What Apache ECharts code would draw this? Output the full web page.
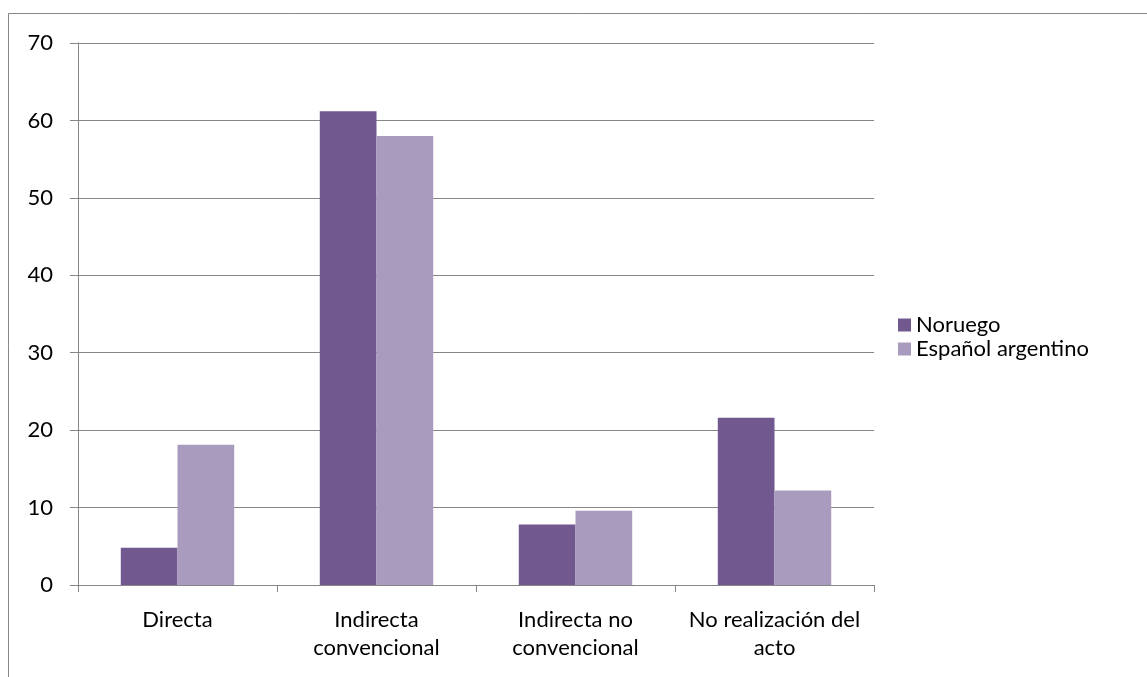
<!DOCTYPE html>
<html>
<head>
<meta charset="utf-8">
<script src="https://cdn.jsdelivr.net/npm/echarts@6/dist/echarts.min.js"></script>
<style>
html, body { margin: 0; padding: 0; background: #fff; }
#main { width: 1147px; height: 677px; }
</style>
</head>
<body>
<div id="main"></div>
<script>
// categorias (eje x)
var categorias = ['Directa', 'Indirecta\nconvencional', 'Indirecta no\nconvencional', 'No realización del\nacto'];
// valores
var noruego = [4.8, 61.2, 7.8, 21.6];
var espanolArgentino = [18.1, 58.0, 9.6, 12.2];
var nombresSeries = ['Noruego', 'Español argentino'];

var chart = echarts.init(document.getElementById('main'));
var fuente = 'Lato';
var tamano = 22;
var gris = '#868686';

var option = {
	animation: false,
	graphic: [{
		type: 'rect',
		shape: { x: 8.5, y: 13.5, width: 1300, height: 800 },
		style: { fill: 'none', stroke: gris, lineWidth: 1 },
		silent: true
	}],
	grid: {
		left: 78,
		right: 1147 - 874,
		top: 43,
		bottom: 677 - 585
	},
	legend: {
		orient: 'vertical',
		left: 893,
		top: 309,
		itemWidth: 13,
		itemHeight: 13,
		itemGap: 2,
		icon: 'rect',
		textStyle: { fontFamily: fuente, fontSize: tamano, color: '#000' },
		data: nombresSeries
	},
	xAxis: {
		type: 'category',
		data: categorias,
		axisLine: { lineStyle: { color: gris, width: 1 } },
		axisTick: { show: true, length: 7, lineStyle: { color: gris } },
		axisLabel: {
			color: '#000',
			fontFamily: fuente,
			fontSize: tamano,
			lineHeight: 28,
			margin: 21,
			interval: 0
		}
	},
	yAxis: {
		type: 'value',
		min: 0,
		max: 70,
		interval: 10,
		axisLine: { show: true, lineStyle: { color: gris, width: 1 } },
		axisTick: { show: true, length: 8, lineStyle: { color: gris } },
		splitLine: { lineStyle: { color: gris, width: 1 } },
		axisLabel: {
			color: '#000',
			fontFamily: fuente,
			fontSize: tamano,
			margin: 25
		}
	},
	series: [{
		name: nombresSeries[0],
		type: 'bar',
		data: noruego,
		barGap: '0%',
		barCategoryGap: '43%',
		itemStyle: { color: '#71588F' }
	}, {
		name: nombresSeries[1],
		type: 'bar',
		data: espanolArgentino,
		itemStyle: { color: '#A99BBD' }
	}]
};

chart.setOption(option);
</script>
</body>
</html>
